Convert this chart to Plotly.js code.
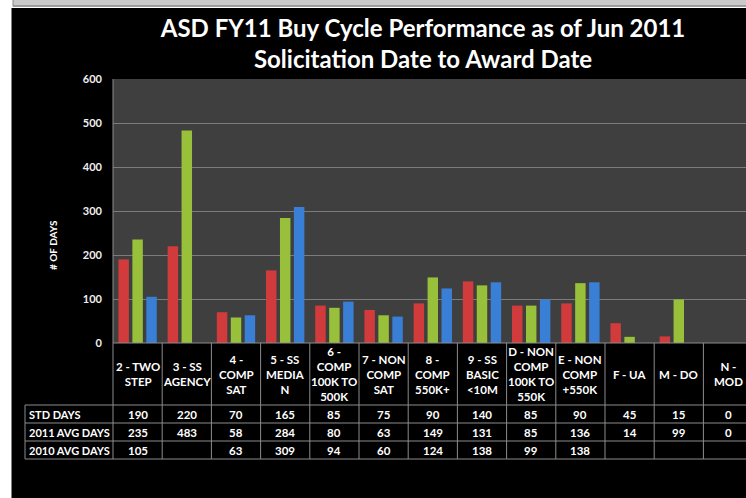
<!DOCTYPE html>
<html>
<head>
<meta charset="utf-8">
<script src="https://cdn.plot.ly/plotly-3.0.1.min.js"></script>
<style>html,body{margin:0;padding:0;background:#fff;overflow:hidden}#chart{width:746px;height:498px}</style>
</head>
<body>
<div id="chart"></div>
<script>
// ---- data ----
const categories = ["2 - TWO<br>STEP","3 - SS<br>AGENCY","4 -<br>COMP<br>SAT","5 - SS<br>MEDIA<br>N","6 -<br>COMP<br>100K TO<br>500K","7 - NON<br>COMP<br>SAT","8 -<br>COMP<br>550K+","9 - SS<br>BASIC<br>&lt;10M","D - NON<br>COMP<br>100K TO<br>550K","E - NON<br>COMP<br>+550K","F - UA","M - DO","N -<br>MOD"];
const seriesNames = ["STD DAYS","2011 AVG DAYS","2010 AVG DAYS"];
const stdDays  = [190,220,70,165,85,75,90,140,85,90,45,15,0];
const avg2011  = [235,483,58,284,80,63,149,131,85,136,14,99,0];
const avg2010  = [105,null,63,309,94,60,124,138,99,138,null,null,null];
const yTicks   = [0,100,200,300,400,500,600];

const seriesValues = [stdDays, avg2011, avg2010];
const seriesColors = ["#d23b3b","#98c03a","#3a7fd6"];

// ---- geometry helpers (pixel -> paper) ----
const W = 746, H = 498, L = 113, R = 0, T = 79, B = 155;
const pw = W - L - R, ph = H - T - B;
const px = x => (x - L) / pw;
const py = y => (H - B - y) / ph;

const xIdx = categories.map((c, i) => i);

const traces = seriesValues.map((vals, s) => ({
  type: 'bar',
  name: seriesNames[s],
  x: xIdx,
  y: vals,
  marker: {color: seriesColors[s], line: {width: 0}},
  hoverinfo: 'skip'
}));

const lineCol = '#8c8c8c';
const shapes = [];
// left white margin, top frame strip
shapes.push({type:'rect', xref:'paper', yref:'paper', x0:px(0), x1:px(11.5), y0:py(H), y1:py(0), fillcolor:'#ffffff', line:{width:0}, layer:'above'});
shapes.push({type:'rect', xref:'paper', yref:'paper', x0:px(0), x1:1, y0:py(8), y1:py(0), fillcolor:'#ffffff', line:{width:0}, layer:'above'});
shapes.push({type:'rect', xref:'paper', yref:'paper', x0:px(13), x1:1, y0:py(6.5), y1:py(0), fillcolor:'#c9c9c9', line:{width:0}, layer:'above'});
shapes.push({type:'line', xref:'paper', yref:'paper', x0:px(13), x1:1, y0:py(6), y1:py(6), line:{color:'#8a8a8a', width:1.5}, layer:'above'});
shapes.push({type:'line', xref:'paper', yref:'paper', x0:px(13), x1:px(13), y0:py(6.5), y1:py(0), line:{color:'#8a8a8a', width:1}, layer:'above'});

// table lines
const rowLines = [405, 423, 441, 459];
shapes.push({type:'line', xref:'paper', yref:'paper', x0:0, x1:1, y0:0, y1:0, line:{color:lineCol, width:1}});
rowLines.forEach(y => shapes.push({type:'line', xref:'paper', yref:'paper', x0:px(25), x1:1, y0:py(y), y1:py(y), line:{color:lineCol, width:1}}));
shapes.push({type:'line', xref:'paper', yref:'paper', x0:px(25), x1:px(25), y0:py(405), y1:py(459), line:{color:lineCol, width:1}});
shapes.push({type:'line', xref:'paper', yref:'paper', x0:0, x1:0, y0:1, y1:py(459), line:{color:lineCol, width:1}});
for (let i = 1; i < categories.length; i++) {
  shapes.push({type:'line', xref:'x', yref:'paper', x0:i-0.5, x1:i-0.5, y0:0, y1:py(459), line:{color:lineCol, width:1}});
}

const fontB = (size, color) => ({family:'Lato, "Open Sans", sans-serif', size:size, color:color||'#ffffff', weight:'bold'});
const annotations = [];
// header cells
categories.forEach((c, i) => annotations.push({
  xref:'x', yref:'paper', x:i, y:py(374), text:c, showarrow:false,
  xanchor:'center', yanchor:'middle', align:'center', font:fontB(11.5)
}));
// data rows
const rowCenters = [414, 432, 450];
seriesValues.forEach((vals, s) => {
  annotations.push({xref:'paper', yref:'paper', x:px(27), y:py(rowCenters[s]), text:seriesNames[s], showarrow:false,
    xanchor:'left', yanchor:'middle', font:fontB(11)});
  vals.forEach((v, i) => {
    if (v === null) return;
    annotations.push({xref:'x', yref:'paper', x:i, y:py(rowCenters[s]), text:String(v), showarrow:false,
      xanchor:'center', yanchor:'middle', font:fontB(11.5)});
  });
});
// y axis title
annotations.push({xref:'paper', yref:'paper', x:px(53), y:py(245), text:'# OF DAYS', textangle:-90, showarrow:false,
  xanchor:'center', yanchor:'middle', font:fontB(10)});

const layout = {
  width: W, height: H,
  margin: {l:L, r:R, t:T, b:B, pad:0},
  paper_bgcolor: '#000000',
  plot_bgcolor: '#3f3f3f',
  showlegend: false,
  barmode: 'group',
  bargap: 0.15,
  bargroupgap: 0.25,
  title: {
    text: 'ASD FY11 Buy Cycle Performance as of Jun 2011<br>Solicitation Date to Award Date',
    font: fontB(24),
    xref: 'container', yref: 'container',
    x: 423/W, xanchor: 'center',
    y: 1 - 37/H, yanchor: 'middle'
  },
  xaxis: {
    type: 'linear',
    range: [-0.5, -0.5 + pw/49.2],
    showgrid: false, zeroline: false, showticklabels: false, ticks: '', showline: false,
    fixedrange: true
  },
  yaxis: {
    range: [0, 600],
    tickvals: yTicks,
    ticktext: yTicks.map(String),
    showgrid: true, gridcolor: '#7b7b7b', gridwidth: 1,
    zeroline: false, showline: false, ticks: '',
    ticklabelstandoff: 10,
    tickfont: fontB(11, '#f0f0f0'),
    fixedrange: true
  },
  shapes: shapes,
  annotations: annotations
};

Plotly.newPlot('chart', traces, layout, {displayModeBar:false, staticPlot:true});
</script>
</body>
</html>
